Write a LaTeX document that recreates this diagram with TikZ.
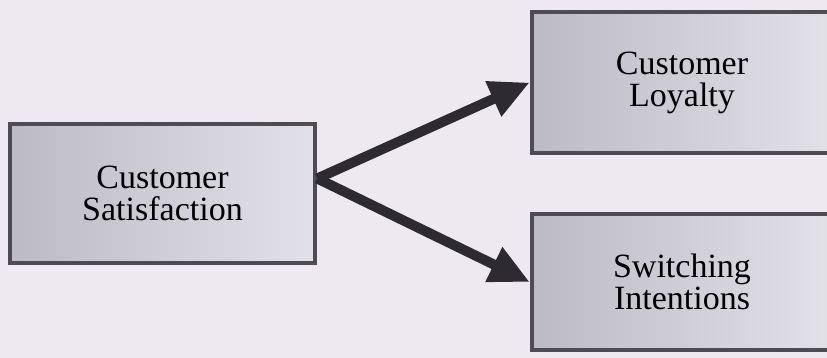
\documentclass[tikz,border=0pt]{standalone}
\usepackage{fontspec}
\setmainfont{Liberation Serif}
\usetikzlibrary{arrows.meta}
\definecolor{bgcol}{RGB}{238,233,241}
\definecolor{boxdark}{RGB}{188,187,196}
\definecolor{boxlight}{RGB}{226,225,232}
\definecolor{edgecol}{RGB}{78,76,82}
\definecolor{arrowcol}{RGB}{45,43,49}
\tikzset{
  factor/.style={draw=edgecol, line width=4.5pt, left color=boxdark, right color=boxlight,
    minimum width=300pt, minimum height=138pt, align=center, text=black,
    font=\fontsize{34}{32}\selectfont},
  link/.style={draw=arrowcol, line width=10pt, -{Triangle[length=40pt,width=36pt]}}
}
\begin{document}
\begin{tikzpicture}[x=1pt,y=1pt]
  \fill[bgcol] (0,0) rectangle (827,-358);
  \useasboundingbox (0,0) rectangle (827,-358);
  \node[factor, minimum width=305pt, minimum height=139pt] (sat) at (162.5,-193.5) {Customer\\Satisfaction};
  \node[factor, minimum height=141pt] (loy) at (682,-82.5) {Customer\\Loyalty};
  \node[factor, minimum height=136pt] (sw) at (682,-282) {Switching\\Intentions};
  \coordinate (fork) at ([yshift=15pt]sat.east);
  \draw[link] (fork) -- (loy.west);
  \draw[link] (fork) -- (sw.west);
\end{tikzpicture}
\end{document}
